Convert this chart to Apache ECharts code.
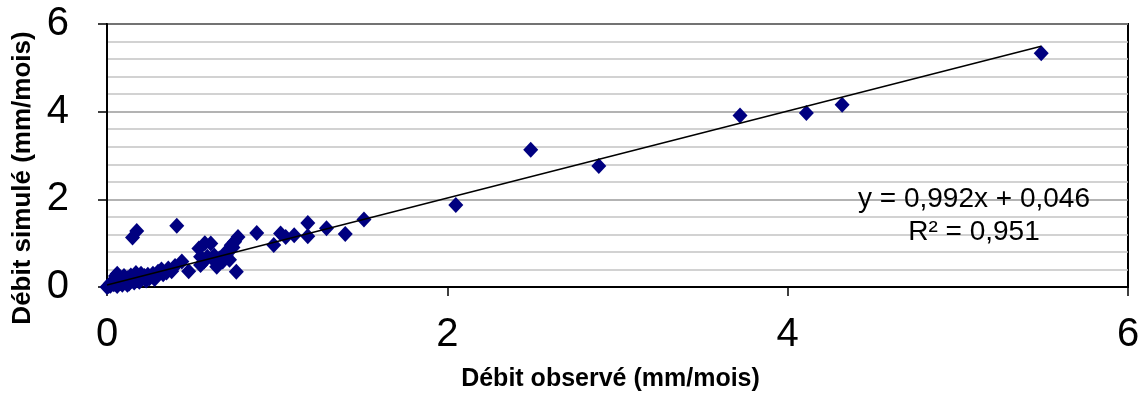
<!DOCTYPE html>
<html>
<head>
<meta charset="utf-8">
<script src="https://cdn.jsdelivr.net/npm/echarts@6/dist/echarts.min.js"></script>
<style>html,body{margin:0;padding:0;background:#fff}#c{width:1147px;height:400px}</style>
</head>
<body>
<div id="c"></div>
<script>
// Observed (x) vs simulated (y) monthly discharge, mm/mois
const observed = [5.49,4.32,4.11,3.72,2.89,2.49,2.05,1.51,1.40,1.29,1.18,1.18,1.10,1.05,1.02,0.98,0.88,
  0.77,0.75,0.73,0.70,0.68,0.72,0.76,0.645,0.625,0.61,0.575,0.54,0.55,0.59,0.55,0.48,0.44,0.41,0.175,0.15,
  0.65,0.66,0.70,0.72,0.74,0.68,0.63,0.57,
  0.40,0.36,0.32,0.30,0.28,0.27,0.24,0.22,0.20,0.18,0.17,0.15,0.14,0.12,0.11,0.10,0.09,0.08,0.07,0.06,0.05,
  0.04,0.03,0.02,0.01,0.00,0.05,0.13,0.19,0.25,0.33,0.38,0.35,0.23,0.16,0.09,0.02,0.06,0.12];
const simulated = [5.33,4.16,3.97,3.91,2.76,3.13,1.87,1.54,1.21,1.34,1.46,1.16,1.18,1.14,1.22,0.96,1.23,
  1.14,1.03,0.95,0.80,0.69,0.62,0.35,0.46,0.62,0.99,1.00,0.88,0.69,0.69,0.50,0.36,0.58,1.40,1.28,1.13,
  0.55,0.65,0.72,0.85,0.90,0.58,0.72,0.58,
  0.48,0.42,0.40,0.35,0.18,0.30,0.28,0.25,0.30,0.22,0.32,0.18,0.26,0.20,0.12,0.25,0.15,0.09,0.22,0.30,0.12,
  0.06,0.10,0.03,0.02,0.00,0.25,0.08,0.12,0.20,0.29,0.36,0.33,0.15,0.10,0.05,0.08,0.02,0.05];
const xTicks = [0, 2, 4, 6];
const yTicks = [0, 2, 4, 6];
const slope = 0.992, intercept = 0.046;
const equationText = 'y = 0,992x + 0,046';
const r2Text = 'R² = 0,951';
const xTitle = 'Débit observé (mm/mois)';
const yTitle = 'Débit simulé (mm/mois)';

const points = observed.map((x, i) => [x, simulated[i]]);
const xMin = Math.min(...observed), xMax = Math.max(...observed);
const trend = [[xMin, slope * xMin + intercept], [xMax, slope * xMax + intercept]];
const FONT = '"Liberation Sans", Arial, sans-serif';

const chart = echarts.init(document.getElementById('c'), null, {renderer: 'canvas'});
chart.setOption({
  animation: false,
  backgroundColor: '#fff',
  grid: {left: 107, right: 19, top: 24, bottom: 113, show: true, borderColor: '#000', borderWidth: 2, backgroundColor: 'transparent'},
  xAxis: {
    type: 'value', min: xTicks[0], max: xTicks[xTicks.length - 1], interval: 2,
    name: xTitle, nameLocation: 'middle', nameGap: 80,
    nameTextStyle: {fontFamily: FONT, fontWeight: 'bold', fontSize: 25, color: '#000', padding: [0, 14, 0, 0]},
    axisLine: {show: true, onZero: false, lineStyle: {color: '#000', width: 2}},
    axisTick: {show: true, inside: false, length: 9, lineStyle: {color: '#000', width: 1.5}},
    axisLabel: {fontFamily: FONT, fontSize: 40, color: '#000', margin: 28},
    splitLine: {show: false}
  },
  yAxis: {
    type: 'value', min: yTicks[0], max: yTicks[yTicks.length - 1], interval: 2,
    name: yTitle, nameLocation: 'middle', nameGap: 71, nameRotate: 90,
    nameTextStyle: {fontFamily: FONT, fontWeight: 'bold', fontSize: 26, color: '#000', padding: [0, 45, 0, 0]},
    axisLine: {show: true, lineStyle: {color: '#000', width: 2}},
    axisTick: {show: true, inside: false, length: 9, lineStyle: {color: '#000', width: 1.5}},
    axisLabel: {fontFamily: FONT, fontSize: 40, color: '#000', margin: 38},
    splitLine: {show: true, lineStyle: {color: '#9a9a9a', width: 1.5}},
    minorTick: {show: false, splitNumber: 5},
    minorSplitLine: {show: true, lineStyle: {color: '#c4c4c4', width: 1.5}}
  },
  series: [
    {
      type: 'scatter', data: points, symbol: 'diamond', symbolSize: [15, 16],
      itemStyle: {color: '#000080', opacity: 1}, z: 2
    },
    {
      type: 'line', data: trend, showSymbol: false, symbol: 'none',
      lineStyle: {color: '#000', width: 1.5}, z: 3
    }
  ],
  graphic: [
    {type: 'text', x: 974, y: 199, style: {text: equationText, x: 0, y: 0, fontFamily: FONT, fontSize: 28, fill: '#000', textAlign: 'center', textVerticalAlign: 'middle'}, z: 10},
    {type: 'text', x: 974, y: 232, style: {text: r2Text, x: 0, y: 0, fontFamily: FONT, fontSize: 28, fill: '#000', textAlign: 'center', textVerticalAlign: 'middle'}, z: 10}
  ]
});
</script>
</body>
</html>
